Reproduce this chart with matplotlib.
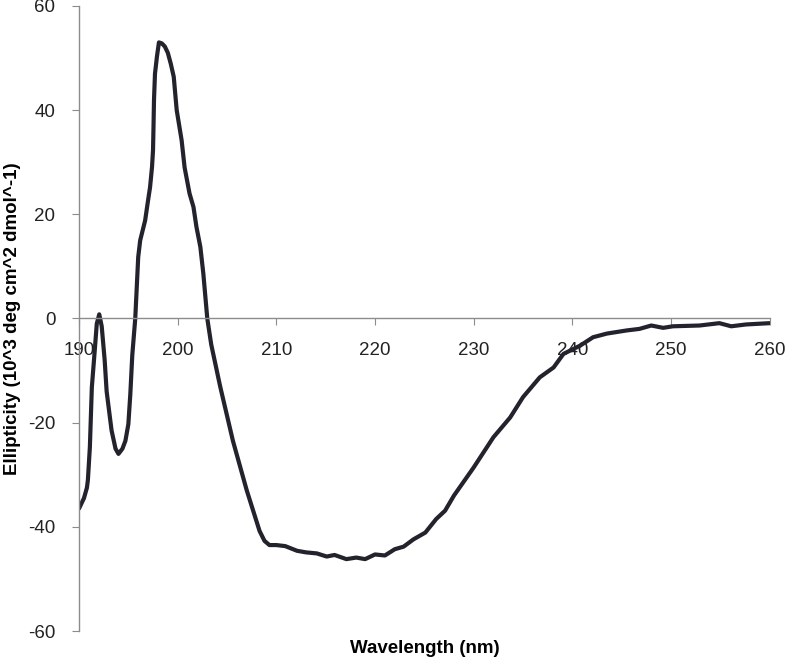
import matplotlib
matplotlib.use('Agg')
import matplotlib.pyplot as plt

# CD spectrum
wavelength = [190.0, 190.5, 190.8, 190.9, 191.1, 191.3, 191.6, 191.8, 192.05, 192.3,
              192.6, 192.8, 193.3, 193.7, 194.0, 194.4, 194.7, 195.0, 195.2, 195.4,
              195.7, 196.0, 196.2, 196.7, 197.0, 197.2, 197.4, 197.5, 197.55, 197.6,
              197.7, 197.9, 198.1, 198.4, 198.7, 199.0, 199.3, 199.6, 199.9, 200.4,
              200.7, 201.2, 201.6, 201.9, 202.3, 202.6, 203.0, 203.4, 204.3, 205.6,
              207.0, 208.3, 208.8, 209.3, 210.0, 210.9, 212.1, 213.0, 214.1, 215.1,
              215.9, 217.1, 218.1, 219.0, 220.0, 221.0, 222.0, 222.9, 223.9, 225.1,
              226.2, 227.1, 228.0, 230.0, 232.0, 233.7, 235.0, 236.7, 238.1, 239.1,
              240.8, 242.1, 243.5, 245.5, 246.8, 248.0, 249.2, 250.2, 252.9, 254.9,
              256.1, 257.6, 260.0]
ellipticity = [-36.5, -34.5, -32.5, -31.0, -24.7, -13.2, -6.0, -1.0, 0.8, -1.5,
               -8.0, -14.0, -21.5, -25.0, -26.0, -25.0, -23.5, -20.3, -14.5, -7.0,
               0.0, 11.8, 15.0, 18.8, 22.7, 25.2, 29.1, 32.3, 36.8, 42.0,
               47.0, 50.3, 53.0, 52.8, 52.2, 51.0, 48.9, 46.4, 40.0, 34.2,
               29.0, 24.0, 21.4, 17.6, 13.7, 8.6, 0.0, -5.0, -13.0, -23.5,
               -33.0, -40.8, -42.7, -43.5, -43.5, -43.7, -44.6, -44.9, -45.1, -45.7,
               -45.4, -46.2, -45.9, -46.2, -45.3, -45.5, -44.3, -43.8, -42.4, -41.1,
               -38.5, -36.9, -34.0, -28.6, -22.8, -19.0, -15.1, -11.3, -9.4, -6.8,
               -5.2, -3.6, -2.9, -2.3, -2.0, -1.35, -1.8, -1.5, -1.35, -0.9,
               -1.5, -1.15, -0.9]

xticks = [190, 200, 210, 220, 230, 240, 250, 260]
yticks = [-60, -40, -20, 0, 20, 40, 60]

plt.rcParams['font.family'] = ['Liberation Sans', 'DejaVu Sans']
plt.rcParams['axes.unicode_minus'] = False

fig = plt.figure(figsize=(7.87, 6.58), dpi=100)
ax = fig.add_axes([0.1004, 0.041, 0.8776, 0.950])

ax.plot(wavelength, ellipticity, color='#23232e', linewidth=3.0,
        solid_joinstyle='round', solid_capstyle='round')

ax.set_xlim(190, 260)
ax.set_ylim(-60, 60)
ax.set_xticks(xticks)
ax.set_yticks(yticks)

for side in ['top', 'right']:
    ax.spines[side].set_visible(False)
ax.spines['bottom'].set_position(('data', 0))
for side in ['left', 'bottom']:
    ax.spines[side].set_color('#8c8c8c')
    ax.spines[side].set_linewidth(1.0)

ax.tick_params(axis='x', direction='out', length=5, color='#8c8c8c',
               labelsize=13.5, labelcolor='#222222', pad=12)
ax.tick_params(axis='y', direction='out', length=5, color='#8c8c8c',
               labelsize=13.5, labelcolor='#222222', pad=12)

ax.set_xlabel('Wavelength (nm)', fontsize=13.5, fontweight='bold')
ax.xaxis.set_label_coords(0.5, -0.014)
ax.set_ylabel('Ellipticity (10^3 deg cm^2 dmol^-1)', fontsize=13.5, fontweight='bold')
ax.yaxis.set_label_coords(-0.084, 0.5)

fig.savefig('out.png', dpi=100)
plt.close(fig)
